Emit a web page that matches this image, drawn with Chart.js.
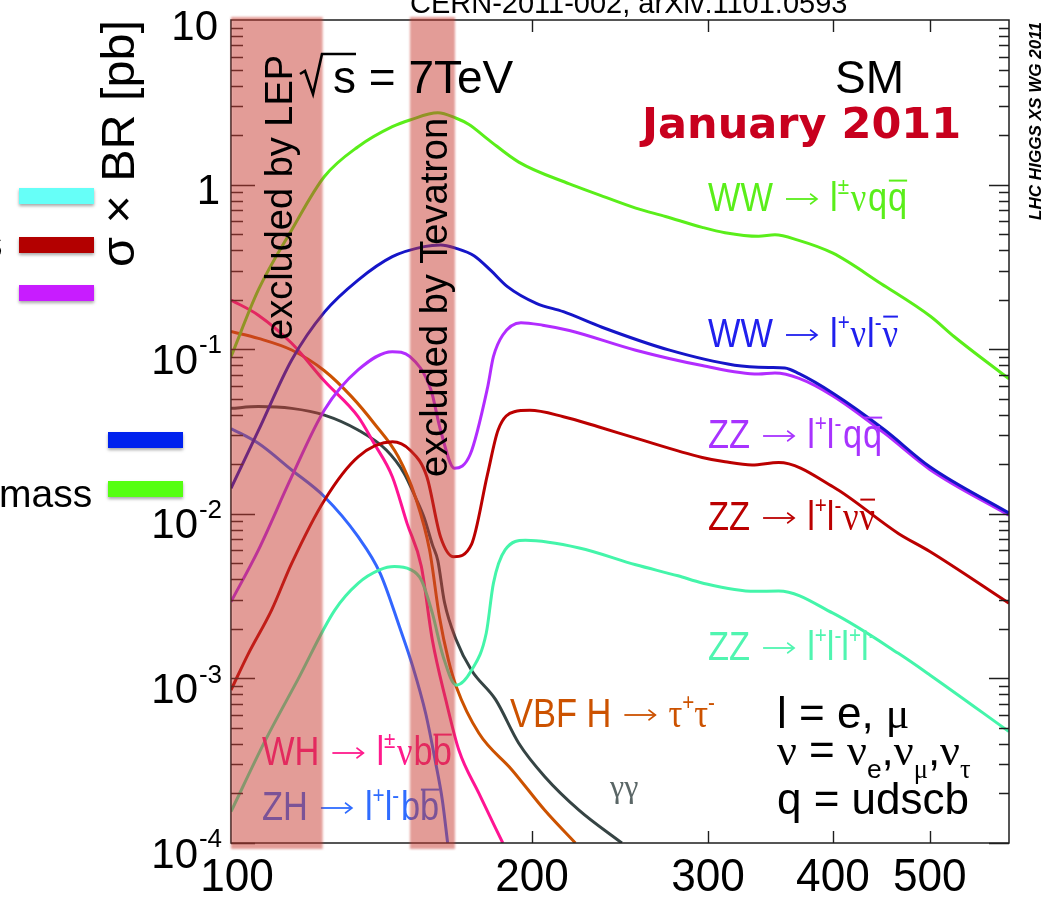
<!DOCTYPE html>
<html>
<head>
<meta charset="utf-8">
<style>
  html, body { margin: 0; padding: 0; background: #fff; }
  canvas { display: block; }
</style>
<script src="https://cdn.jsdelivr.net/npm/chart.js@4.4.1/dist/chart.umd.min.js"></script>
</head>
<body>
<canvas id="c" width="1047" height="900" style="width:1047px;height:900px"></canvas>
<script>
// Higgs mass [GeV] and sigma x BR [pb] for each decay channel, pp at 7 TeV
const wwLnuqqMass = [100, 106.5, 115, 124, 134, 145, 151, 161, 168, 173, 181, 194, 218, 233, 254, 272, 296, 312, 337, 350, 369, 400, 447, 501, 529, 600];
const wwLnuqqXs   = [0.090, 0.229, 0.53, 1.12, 1.70, 2.25, 2.47, 2.73, 2.53, 2.32, 1.87, 1.37, 1.01, 0.87, 0.72, 0.64, 0.55, 0.51, 0.485, 0.495, 0.46, 0.383, 0.25, 0.158, 0.119, 0.066];

const wwLnulnuMass = [100, 106.5, 115, 124, 134, 145, 156, 162, 168, 175, 182, 189, 202, 215, 235, 274, 319, 345, 358, 370, 400, 450, 500, 600];
const wwLnulnuXs   = [0.0143, 0.032, 0.086, 0.168, 0.263, 0.365, 0.42, 0.43, 0.41, 0.37, 0.30, 0.24, 0.19, 0.169, 0.136, 0.099, 0.080, 0.0775, 0.077, 0.071, 0.054, 0.0325, 0.0193, 0.0101];

const zzLlqqMass = [100, 106.5, 115, 124, 134, 145, 151, 158.5, 162, 167.3, 173.5, 180.5, 183, 187, 195, 205, 218, 254, 296, 337, 350, 370, 400, 450, 500, 600];
const zzLlqqXs   = [0.00292, 0.00602, 0.0168, 0.0427, 0.0748, 0.0966, 0.090, 0.0565, 0.0323, 0.0189, 0.023, 0.058, 0.09, 0.122, 0.145, 0.140, 0.130, 0.0986, 0.0796, 0.0707, 0.0717, 0.0665, 0.052, 0.031, 0.0186, 0.0098];

const zzLlnunuMass = [100, 104, 109.8, 115, 124, 134, 145, 151, 157, 162, 167, 174, 180.5, 185, 192, 199, 215, 233, 254, 296, 312, 332, 353, 400, 465, 500, 600];
const zzLlnunuXs   = [0.00085, 0.0014, 0.0026, 0.005, 0.0121, 0.0222, 0.0274, 0.0244, 0.0168, 0.00726, 0.00548, 0.00652, 0.0173, 0.0323, 0.0417, 0.0425, 0.0389, 0.0338, 0.0288, 0.022, 0.0207, 0.0198, 0.0205, 0.0146, 0.0076, 0.0059, 0.00286];

const zz4lMass = [100, 108, 116.6, 127, 134, 140.8, 145.7, 151, 155, 159, 163, 168, 174, 180, 183, 188, 197, 223, 254, 280, 296, 334, 353, 400, 465, 500, 600];
const zz4lXs   = [0.000155, 0.00041, 0.00098, 0.0026, 0.00378, 0.00456, 0.00478, 0.0046, 0.00396, 0.00249, 0.00136, 0.00091, 0.00112, 0.00188, 0.00378, 0.00603, 0.0069, 0.0062, 0.0049, 0.0042, 0.0038, 0.00338, 0.0034, 0.00249, 0.00142, 0.00105, 0.000475];

const whMass = [100, 106.5, 115, 124, 134, 139, 145, 150, 155, 159, 164, 169, 177, 187];
const whXs   = [0.199, 0.161, 0.1086, 0.064, 0.0389, 0.0268, 0.0168, 0.00875, 0.0048, 0.00171, 0.00074, 0.000367, 0.0002, 0.0001];

const zhMass = [100, 106.5, 115, 124, 134, 141, 147.4, 152, 156.6, 160, 162.7, 164.7];
const zhXs   = [0.033, 0.0268, 0.01845, 0.0127, 0.00726, 0.00435, 0.00206, 0.00118, 0.00061, 0.00032, 0.000182, 0.0001];

const vbfTauTauMass = [100, 106.5, 115, 124, 132, 139, 147, 153, 158, 161.6, 165, 168, 177, 191, 206, 221];
const vbfTauTauXs   = [0.128, 0.1164, 0.0989, 0.074, 0.0515, 0.0355, 0.0222, 0.0125, 0.006, 0.00237, 0.00129, 0.00089, 0.000464, 0.000278, 0.000158, 0.0001];

const gammaGammaMass = [100, 106.5, 115, 124, 134, 143, 149, 153, 156, 159, 161, 163.5, 168, 174, 184, 194, 206, 223, 246];
const gammaGammaXs   = [0.0437, 0.0448, 0.0437, 0.0398, 0.0323, 0.0244, 0.0176, 0.0125, 0.0095, 0.0065, 0.0052, 0.0029, 0.00171, 0.00112, 0.00074, 0.000404, 0.000253, 0.000158, 0.0001];

// axis ticks and excluded mass ranges
const massTickLabels = [100, 200, 300, 400, 500];
const xsDecades = [1e-4, 1e-3, 1e-2, 1e-1, 1, 10];
const lepExcluded = [100, 123.5];
const tevatronExcluded = [151, 167.5];

const SANS = '"Liberation Sans", Arial, Helvetica, sans-serif';
const SERIF = '"Liberation Serif", "Times New Roman", serif';

const channels = [
  { name: 'WW → lνqq',   mass: wwLnuqqMass,    xs: wwLnuqqXs,    color: '#5aee1a' },
  { name: 'WW → lνlν',   mass: wwLnulnuMass,   xs: wwLnulnuXs,   color: '#1515c8' },
  { name: 'ZZ → llqq',   mass: zzLlqqMass,     xs: zzLlqqXs,     color: '#b22cff' },
  { name: 'ZZ → llνν',   mass: zzLlnunuMass,   xs: zzLlnunuXs,   color: '#bb0000' },
  { name: 'ZZ → llll',   mass: zz4lMass,       xs: zz4lXs,       color: '#44f5aa' },
  { name: 'WH → lνbb',   mass: whMass,         xs: whXs,         color: '#ff1493' },
  { name: 'ZH → llbb',   mass: zhMass,         xs: zhXs,         color: '#3366ff' },
  { name: 'VBF H → ττ',  mass: vbfTauTauMass,  xs: vbfTauTauXs,  color: '#cc5200' },
  { name: 'γγ',          mass: gammaGammaMass, xs: gammaGammaXs, color: '#364444' }
];

// rich text: superscripts, subscripts, overlines and arrows
function drawRich(ctx, x, y, parts, size, color, sx) {
  ctx.save();
  ctx.translate(x, y);
  ctx.scale(sx || 1, 1);
  ctx.fillStyle = color;
  ctx.strokeStyle = color;
  ctx.textBaseline = 'alphabetic';
  ctx.textAlign = 'left';
  let cx = 0;
  for (const p of parts) {
    if (p.arrow) {
      const gap = size * 0.38, len = size * 0.9, ay = -size * 0.3;
      cx += gap;
      ctx.lineWidth = Math.max(1.2, size * 0.045);
      ctx.beginPath();
      ctx.moveTo(cx, ay); ctx.lineTo(cx + len, ay);
      ctx.stroke();
      ctx.beginPath();
      ctx.moveTo(cx + len - size * 0.2, ay - size * 0.13);
      ctx.lineTo(cx + len, ay);
      ctx.lineTo(cx + len - size * 0.2, ay + size * 0.13);
      ctx.stroke();
      cx += len + gap;
      continue;
    }
    const small = p.sup || p.sub;
    const fs = small ? size * 0.6 : size;
    ctx.font = fs + 'px ' + (p.serif ? SERIF : SANS);
    const dy = p.sup ? -size * 0.42 : (p.sub ? size * 0.3 : 0);
    const w = ctx.measureText(p.t).width;
    ctx.fillText(p.t, cx, dy);
    if (p.bar) {
      ctx.lineWidth = Math.max(1.2, size * 0.05);
      ctx.beginPath();
      ctx.moveTo(cx + 1, -size * 0.76);
      ctx.lineTo(cx + w, -size * 0.76);
      ctx.stroke();
    }
    cx += w + (p.gap || 0);
  }
  ctx.restore();
}

function rotatedText(ctx, text, x, y, font, color, targetWidth) {
  ctx.save();
  ctx.translate(x, y);
  ctx.rotate(-Math.PI / 2);
  ctx.font = font;
  ctx.fillStyle = color;
  ctx.textAlign = 'left';
  ctx.textBaseline = 'alphabetic';
  if (targetWidth) {
    const w = ctx.measureText(text).width;
    ctx.scale(targetWidth / w, 1);
  }
  ctx.fillText(text, 0, 0);
  ctx.restore();
}

function drawFrameAndTicks(ctx, a, xs, ys) {
  ctx.save();
  ctx.strokeStyle = '#1e1e1e';
  ctx.lineWidth = 1.5;
  ctx.strokeRect(a.left, a.top, a.right - a.left, a.bottom - a.top);
  ctx.lineWidth = 1.4;
  ctx.beginPath();
  for (let d = -4; d <= 0; d++) {
    for (let k = 1; k <= 9; k++) {
      const py = Math.round(ys.getPixelForValue(k * Math.pow(10, d))) + 0.5;
      const major = k === 1;
      ctx.moveTo(a.left, py); ctx.lineTo(a.left + (major ? 24 : 12), py);
      ctx.moveTo(a.right, py); ctx.lineTo(a.right - (major ? 20 : 10), py);
    }
  }
  for (const m of massTickLabels) {
    if (m === 100) continue;
    const px = Math.round(xs.getPixelForValue(m)) + 0.5;
    ctx.moveTo(px, a.bottom); ctx.lineTo(px, a.bottom - 12);
    ctx.moveTo(px, a.top); ctx.lineTo(px, a.top + 12);
  }
  ctx.stroke();
  ctx.restore();
}

function drawCurveLabels(ctx) {
  const S = 40, SX = 0.86;
  drawRich(ctx, 708, 211, [{ t: 'WW' }, { arrow: 1 }, { t: 'l' }, { t: '±', sup: 1, gap: 2 }, { t: 'ν', serif: 1, gap: 2 }, { t: 'q', gap: 1 }, { t: 'q', bar: 1 }], S, '#5aee1a', SX);
  drawRich(ctx, 708, 347, [{ t: 'WW' }, { arrow: 1 }, { t: 'l' }, { t: '+', sup: 1, gap: 1 }, { t: 'ν', serif: 1, gap: 1 }, { t: 'l' }, { t: '-', sup: 1, gap: 1 }, { t: 'ν', serif: 1, bar: 1 }], S, '#2020ee', SX);
  drawRich(ctx, 708, 448, [{ t: 'ZZ' }, { arrow: 1 }, { t: 'l' }, { t: '+', sup: 1 }, { t: 'l' }, { t: '-', sup: 1, gap: 2 }, { t: 'q', gap: 1 }, { t: 'q', bar: 1 }], S, '#a833ff', SX);
  drawRich(ctx, 708, 530, [{ t: 'ZZ' }, { arrow: 1 }, { t: 'l' }, { t: '+', sup: 1 }, { t: 'l' }, { t: '-', sup: 1, gap: 2 }, { t: 'ν', serif: 1, gap: 1 }, { t: 'ν', serif: 1, bar: 1 }], S, '#bb0000', SX);
  drawRich(ctx, 708, 660, [{ t: 'ZZ' }, { arrow: 1 }, { t: 'l' }, { t: '+', sup: 1 }, { t: 'l' }, { t: '-', sup: 1 }, { t: 'l' }, { t: '+', sup: 1 }, { t: 'l' }, { t: '-', sup: 1 }], S, '#50f5b0', SX);
  drawRich(ctx, 510, 727, [{ t: 'VBF H' }, { arrow: 1 }, { t: 'τ', serif: 1 }, { t: '+', sup: 1 }, { t: 'τ', serif: 1 }, { t: '-', sup: 1 }], S, '#cc5200', SX);
  drawRich(ctx, 610, 797, [{ t: 'γγ', serif: 1 }], 32, '#5a6666', 1);
  drawRich(ctx, 262, 765, [{ t: 'WH' }, { arrow: 1 }, { t: 'l' }, { t: '±', sup: 1, gap: 2 }, { t: 'ν', serif: 1, gap: 1 }, { t: 'b' }, { t: 'b', bar: 1 }], S, '#ff1a8c', SX);
  drawRich(ctx, 262, 820, [{ t: 'ZH' }, { arrow: 1 }, { t: 'l' }, { t: '+', sup: 1 }, { t: 'l' }, { t: '-', sup: 1, gap: 2 }, { t: 'b' }, { t: 'b', bar: 1 }], S, '#2f6cff', SX);
}

function drawBands(ctx, a, xs) {
  ctx.save();
  ctx.fillStyle = 'rgba(200, 58, 48, 0.5)';
  ctx.filter = 'blur(1px)';
  for (const band of [lepExcluded, tevatronExcluded]) {
    const x0 = xs.getPixelForValue(band[0]);
    const x1 = xs.getPixelForValue(band[1]);
    ctx.fillRect(x0, a.top - 3, x1 - x0, a.bottom - a.top + 9);
  }
  ctx.restore();
  rotatedText(ctx, 'excluded by LEP', 292, 340, '38px ' + SANS, '#000');
  rotatedText(ctx, 'excluded by Tevatron', 447, 477, '38px ' + SANS, '#000');
}

function drawOuter(chart) {
  const ctx = chart.ctx;
  const xs = chart.scales.x, ys = chart.scales.y;
  ctx.save();
  ctx.fillStyle = '#000';

  // y tick labels
  for (const v of xsDecades) {
    const py = ys.getPixelForValue(v);
    const exp = Math.round(Math.log10(v));
    ctx.textAlign = 'right';
    ctx.textBaseline = 'middle';
    ctx.font = '42px ' + SANS;
    if (exp === 1) {
      ctx.fillText('10', 218, py + 8);
    } else if (exp === 0) {
      ctx.fillText('1', 220, py + 8);
    } else {
      ctx.fillText('10', 198, py + 13);
      ctx.font = '26px ' + SANS;
      ctx.fillText(String(exp), 222, py - 3);
    }
  }

  // x tick labels
  ctx.textAlign = 'center';
  ctx.textBaseline = 'middle';
  ctx.font = '46px ' + SANS;
  for (const m of massTickLabels) {
    const px = xs.getPixelForValue(m) + (m === 100 ? 6 : 0);
    ctx.save();
    ctx.translate(px, 878);
    ctx.scale(0.96, 1);
    ctx.fillText(String(m), 0, 0);
    ctx.restore();
  }

  // y axis title
  rotatedText(ctx, 'σ × BR [pb]', 134, 267, '46px ' + SANS, '#000', 247);

  // top reference line
  ctx.textAlign = 'left';
  ctx.textBaseline = 'alphabetic';
  ctx.font = '29px ' + SANS;
  ctx.fillText('CERN-2011-002, arXiv:1101.0593', 410, 13);

  // energy, model and date
  ctx.font = '46px ' + SANS;
  ctx.fillText('s = 7TeV', 333, 93);
  ctx.lineWidth = 2.6;
  ctx.strokeStyle = '#000';
  ctx.beginPath();
  ctx.moveTo(300, 74); ctx.lineTo(305, 71); ctx.lineTo(313, 94);
  ctx.lineTo(322, 54); ctx.lineTo(356, 54);
  ctx.stroke();
  ctx.fillText('SM', 835, 93);
  ctx.fillStyle = '#c8001e';
  ctx.font = 'bold 43px "DejaVu Sans", "Open Sans", sans-serif';
  ctx.fillText('January 2011', 642, 138);

  // flavour definitions
  drawRich(ctx, 777, 728, [{ t: 'l = e, ' }, { t: 'μ', serif: 1 }], 44, '#000', 1);
  drawRich(ctx, 777, 765, [{ t: 'ν', serif: 1 }, { t: ' = ' }, { t: 'ν', serif: 1 }, { t: 'e', sub: 1 }, { t: ',' }, { t: 'ν', serif: 1 }, { t: 'μ', sub: 1, serif: 1 }, { t: ',' }, { t: 'ν', serif: 1 }, { t: 'τ', sub: 1, serif: 1 }], 44, '#000', 1);
  drawRich(ctx, 777, 814, [{ t: 'q = udscb' }], 44, '#000', 1);

  // working group stamp
  rotatedText(ctx, 'LHC HIGGS XS WG 2011', 1041, 220, 'italic bold 17px ' + SANS, '#000', 198);

  // legend fragments at the left margin
  ctx.shadowColor = 'rgba(0,0,0,0.35)';
  ctx.shadowBlur = 3;
  ctx.shadowOffsetY = 2;
  const swatches = [
    ['#66fff8', 19, 188], ['#b30000', 19, 237], ['#c81cff', 19, 285],
    ['#0022ee', 108, 432], ['#55ff11', 108, 481]
  ];
  for (const [c, sx, sy] of swatches) {
    ctx.fillStyle = c;
    ctx.fillRect(sx, sy, 75, 16);
  }
  ctx.shadowColor = 'transparent';
  ctx.fillStyle = '#000';
  ctx.font = '39px ' + SANS;
  ctx.fillText('mass', -1, 507);
  ctx.fillText('s', -17, 257);
  ctx.restore();
}

const decorations = {
  id: 'decorations',
  afterDatasetsDraw(chart) {
    const { ctx, chartArea, scales } = chart;
    drawFrameAndTicks(ctx, chartArea, scales.x, scales.y);
    drawCurveLabels(ctx);
    drawBands(ctx, chartArea, scales.x);
  },
  afterDraw(chart) {
    drawOuter(chart);
  }
};

new Chart(document.getElementById('c'), {
  type: 'line',
  data: {
    datasets: channels.map(ch => ({
      label: ch.name,
      data: ch.mass.map((m, i) => ({ x: m, y: ch.xs[i] })),
      borderColor: ch.color,
      backgroundColor: ch.color,
      borderWidth: 3,
      pointRadius: 0,
      fill: false,
      cubicInterpolationMode: 'monotone'
    }))
  },
  options: {
    responsive: false,
    animation: false,
    devicePixelRatio: 1,
    layout: { padding: { left: 231, right: 38, top: 20, bottom: 57 } },
    plugins: { legend: { display: false }, tooltip: { enabled: false }, title: { display: false } },
    scales: {
      x: { type: 'logarithmic', min: 100, max: 600, display: false },
      y: { type: 'logarithmic', min: 1e-4, max: 10, display: false }
    }
  },
  plugins: [decorations]
});
</script>
</body>
</html>
